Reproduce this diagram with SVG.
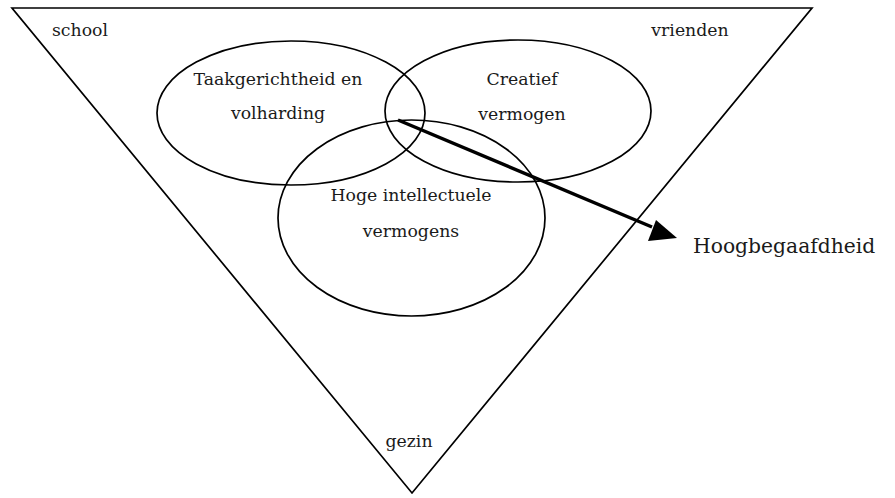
<svg xmlns="http://www.w3.org/2000/svg" width="895" height="498" viewBox="0 0 895 498">
<style>
.shape{fill:none;stroke:#000;stroke-width:1.7}
.t{font-family:"DejaVu Serif","Liberation Serif",serif;font-size:17.3px;fill:#1a1a1a;text-anchor:middle}
.big{font-size:20.3px;text-anchor:start}
</style>
<g id="triangle"><polygon class="shape" points="12,8 812,8 412,493"/></g>
<g id="node-taak"><ellipse class="shape" cx="291" cy="113" rx="134" ry="72"/>
<text class="t" x="278" y="85">Taakgerichtheid en</text><text class="t" x="278" y="119">volharding</text></g>
<g id="node-creatief"><ellipse class="shape" cx="518" cy="111" rx="133" ry="71"/>
<text class="t" x="522" y="85">Creatief</text><text class="t" x="522" y="120">vermogen</text></g>
<g id="node-hoge"><ellipse class="shape" cx="411.5" cy="218" rx="133.5" ry="98"/>
<text class="t" x="411" y="201">Hoge intellectuele</text><text class="t" x="411" y="237">vermogens</text></g>
<g id="labels">
<text class="t" x="80" y="36">school</text>
<text class="t" x="690" y="36">vrienden</text>
<text class="t" x="409" y="447">gezin</text>
<text class="t big" x="693" y="253">Hoogbegaafdheid</text>
</g>
<g id="connectors">
<line x1="398" y1="120" x2="652" y2="227" stroke="#000" stroke-width="3.5"/>
<path d="M677,238 L648,241 L656,220 Z" fill="#000"/>
</g>
</svg>
